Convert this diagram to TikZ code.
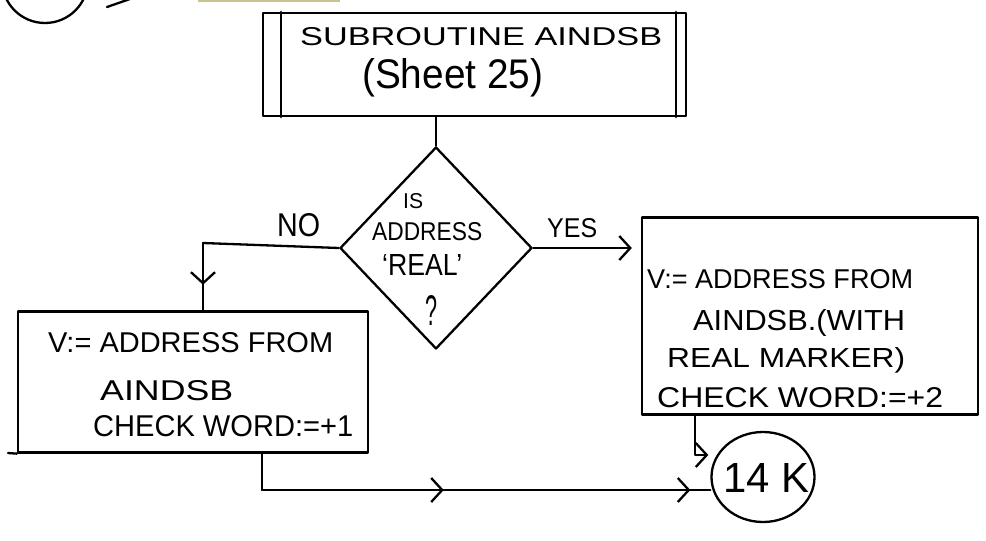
\documentclass[tikz,border=0pt]{standalone}
\usepackage{graphicx}
\usepackage{fontspec}
\setmainfont{Liberation Sans}
\usetikzlibrary{shapes.geometric,arrows.meta,decorations.markings}
\newcommand{\handline}[3]{\resizebox{#1pt}{#2pt}{#3}}
\tikzset{
  ln/.style={line width=2.3pt, black, line cap=round, line join=round},
  boxn/.style={draw, ln, rectangle, inner sep=0pt},
  txt/.style={inner sep=0pt, anchor=base west, font=\fontsize{24}{24}\selectfont},
  vtip/.style={-{Straight Barb[length=11pt,width=24pt,line width=2.3pt]}},
  midv/.style={postaction={decorate}, decoration={markings, mark=at position #1 with {\arrow{Straight Barb[length=11pt,width=24pt,line width=2.3pt]}}}}
}
\begin{document}
\begin{tikzpicture}[x=1pt,y=-1pt]
\useasboundingbox (0,0) rectangle (986,541);
% top-left remnants
\node[draw, ln, circle, minimum size=86pt, inner sep=0pt] (topc) at (45,-20) {};
\coordinate (ta) at (107,7);
\coordinate (tb) at (130,-1);
\draw[ln] (ta) -- (tb);
\coordinate (ya) at (198,1);
\coordinate (yb) at (340,1);
\draw[line width=1.2pt, color={rgb,255:red,200;green,196;blue,140}] (ya) -- (yb);

% subroutine box
\node[boxn, minimum width=423pt, minimum height=103pt] (sub) at (474.5,64.5) {};
\draw[ln] ([xshift=19pt]sub.north west) -- ([xshift=19pt]sub.south west);
\draw[ln] ([xshift=-11pt]sub.north east) -- ([xshift=-11pt]sub.south east);
\node[txt] (subt1) at (300,45) {\handline{362}{18}{SUBROUTINE AINDSB}};
\node[txt] (subt2) at (362,88) {\handline{181}{30}{(Sheet 25)}};

% diamond
\node[draw, ln, diamond, minimum width=192pt, minimum height=202pt, inner sep=0pt] (dec) at (436,248) {};
\node[txt] (dect1) at (403,208) {\handline{20}{15}{IS}};
\node[txt] (dect2) at (372,240) {\handline{110}{18}{ADDRESS}};
\node[txt] (dect3) at (382,275) {\handline{80}{21}{`REAL'}};
\node[txt] (dect4) at (425,325) {\handline{12}{30}{?}};

\draw[ln] (sub.south -| dec.north) -- (dec.north);

% left box
\node[boxn, minimum width=350pt, minimum height=141pt] (lb) at (193,382) {};
\node[txt] (lbt1) at (48,352) {\handline{285}{20}{V:= ADDRESS FROM}};
\node[txt] (lbt2) at (100,400) {\handline{133}{20}{AINDSB}};
\node[txt] (lbt3) at (93,436) {\handline{260}{21}{CHECK WORD:=+1}};
\coordinate (lbx) at (8,453);
\draw[ln] (lbx) -- (lb.south west);

% right box
\node[boxn, minimum width=336pt, minimum height=197pt] (rb) at (810,316) {};
\node[txt] (rbt1) at (647,288) {\handline{266}{19}{V:= ADDRESS FROM}};
\node[txt] (rbt2) at (693,330) {\handline{212}{21}{AINDSB.(WITH}};
\node[txt] (rbt3) at (667,367) {\handline{238}{20}{REAL MARKER)}};
\node[txt] (rbt4) at (657,407) {\handline{286}{20}{CHECK WORD:=+2}};

% connector circle
\node[draw, ln, ellipse, minimum width=103pt, minimum height=90pt, inner sep=0pt] (con) at (763,477) {};
\node[txt] (cont) at (723,492) {\handline{86}{29}{14 K}};

% NO branch
\coordinate (nob) at (203,243);
\draw[ln] (dec.west) -- (nob);
\draw[ln, midv=0.62] (nob) -- (nob |- lb.north);
\node[txt] (nol) at (277,236) {\handline{43}{23}{NO}};

% YES branch
\draw[ln, vtip, shorten >=9pt] (dec.east) -- (rb.west |- dec.east);
\node[txt] (yesl) at (547,237) {\handline{50}{19}{YES}};

% left box to circle
\coordinate (lbd) at (262,490);
\draw[ln, midv=0.45] (lb.south -| lbd) -- (lbd) -- (con.west |- lbd);
\draw[ln, vtip, shorten >=20pt] (lbd) -- (con.west |- lbd);

% right box to circle
\coordinate (rbd) at (695,455);
\draw[ln, vtip, shorten >=2pt] (rb.south -| rbd) -- (rbd) -- (con.west |- rbd);
\end{tikzpicture}
\end{document}
